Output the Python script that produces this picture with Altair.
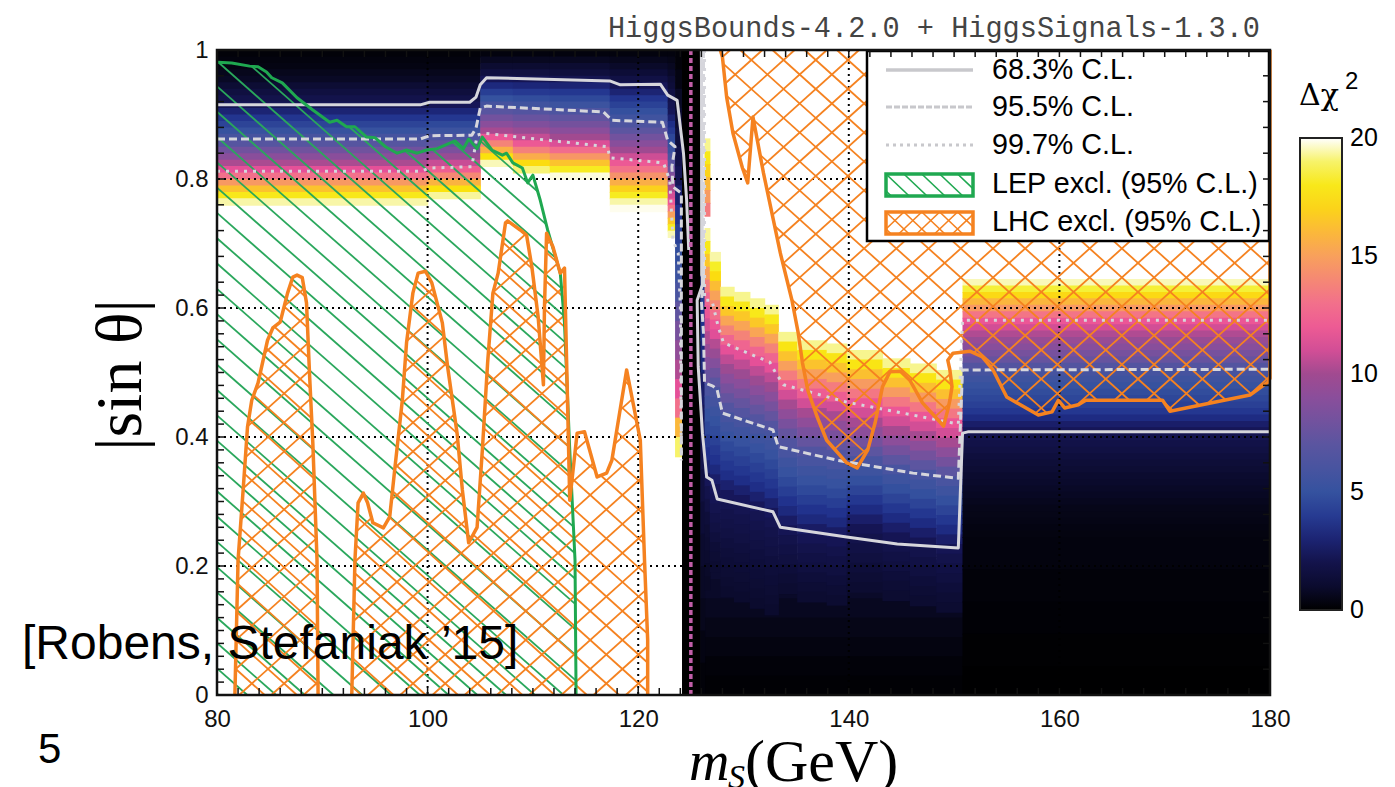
import altair as alt
import numpy as np
import pandas as pd

alt.data_transformers.disable_max_rows()

W, H = 1053, 645

# ---- colour scale
color_dom = [0, 1, 2.5, 3.5, 5, 7, 9, 10, 11.5, 13, 15, 16, 17.5, 18.5, 19.5, 20]
color_rng = ["#000000", "#0b0b2e", "#17175a", "#20308c", "#35529f", "#5a55a0", "#8a4e9b", "#a14a90",
             "#ea5099", "#f2708b", "#f8a05c", "#fbb83a", "#fbe10a", "#f5ef2a", "#f8f6a8", "#ffffff"]

# ---- heat map: Δχ² rows read per mass column (x0, x1, top sinθ, row height, values)
top_c1 = [.2,.3,.4,.6,.8,1.2,1.6,2,2.3,3,3.7,4.4,5.1,5.9,6.8,7.9,9,10.2,11.4,13,14.7,16.4,18,19.5]
top_c2 = [.2,.3,.4,.6,.8,1.1,1.5,1.9,2.4,3.1,3.8,4.6,5.4,6.3,7.3,8.4,9.6,10.8,12.2,14,15.8,17.6,19.4]
top_c3a = [.3,.7,1.1,1.6,2.4,3.2,4.1,5,5.9,6.9,8,9,10.1,11.8,13.8,15.7,17.6,19.6]
top_c3b = [.3,.7,1.1,1.6,2.3,3.1,3.9,4.8,5.6,6.6,7.6,8.6,9.6,10.7,11.9,13.7,15.5,17.3,19.1]
top_c3c = [.3,.7,1.1,1.5,2.2,3,3.8,4.6,5.4,6.3,7.2,8.1,9,10,11.2,12.8,14.6,16.4,18.2,19.8]
top_c4 = [.3,.6,.9,1.3,1.8,2.4,3,3.7,4.3,4.9,5.6,6.3,7.1,8,8.9,9.9,10.9,11.9,13.1,14.4,15.6,16.9,18.2,19.5,19.9]
top_c5 = [.3,.5,.7,.9,1.2,1.4,1.7,2,2.2,2.4,2.9,3.4,3.9,4.5,4.9,5.4,6.2,7,7.8,8.6,9.4,10.2,11,11.8,13.2,15,16.6,18.2,19.6]
top_c6 = [.2,.4,.8,1.1,1.5,1.9,2.3,2.9,3.5,4.2,4.8,5.4,6.1,7.2,8.2,9.3,10.3,11.4,13,16,19]
strip_r0 = [20,20,20,20,20,20,20,4,3.6,3.2,2.8,2.4,2,1.6,1.3,1,.8,.6,.4,.2]
strip_r1a = [19.3,18,17,16,14.8,13.5]
strip_r1b = [19.4,18,16.5,15,13.5,12.5,11.8,11,10.3,9.5,8.8,7.5,6.2,5.6,5,4.5,4,3.5,3,2.4,2,1.7,1.4,1.2,1.1,1,.9,.8]
strip_r2 = [19.5,18.4,17.3,16.2,15.1,14,12.9,11.8,11.3,10.4,9.6,8.7,7.8,7,6.1,5.8,5.4,5,4.7,4.3,3.9,3.6,3.2,2.8,2.5,2.3,2.1,1.9,1.7,1.5,1.3,1.2,1.1]
body_r3 = [19.3,18,16.6,15.2,13.8,12.5,11.4,10.6,9.8,9,8.2,7.4,6.6,5.9,5.5,5.1,4.6,4.2,3.8,3.4,2.9,2.5,2.2,2,1.85,1.7,1.55,1.4,1.3,1.2,1.1,1]
body_r4a = [19.3,17.8,16.4,15,13.5,12.1,11,10.1,9.2,8.3,7.4,6.5,6,5.5,5.1,4.6,4.1,3.6,3.2,2.7,2.3,2,1.8,1.6,1.4,1.25,1.1]
body_r4b = [19.3,17.8,16.3,14.8,13.3,11.8,11,10.1,9.1,8.1,7.1,6.1,5.5,4.9,4.4,3.8,3.3,2.8,2.3,2,1.8,1.6,1.4,1.25,1.1]
dark_floor = [1.1,.9,.7,.5,.35,.2,.1]
right_upper = [19.6,18.6,17.2,15.9,14.7,13.2,11.8,11,10.3,9.6,8.9,8.2,7.5,6.6,5.9,5.5,5.1,4.8,4.5,4.2,3.8,3.3,2.8,2.4,2.1,1.9,1.7,1.5,1.35,1.2,1.05,.95,.85,.75,.65,.55,.5,.45,.4,.35]
right_lower = [.3,.2,.12,.06,.02]

columns = [
    (126.3, 150.8, .21, .03, dark_floor),
    (80, 100, 1, .01, top_c1), (100, 105, 1, .01, top_c2),
    (105, 108.1, 1, .01, top_c3a), (108.1, 111.6, 1, .01, top_c3b),
    (111.6, 117.3, 1, .01, top_c3c), (117.3, 122.8, 1, .01, top_c4),
    (122.8, 123.5, 1, .01, top_c5), (123.5, 124.2, 1, .03, top_c6),
    (124.16, 125.9, 1, 1, [0]),
    (125.9, 126.3, 1, .05, strip_r0),
    (126.3, 126.8, .863, .02, strip_r1a), (126.3, 126.8, .724, .02, strip_r1b),
    (126.8, 127.8, .687, .015, strip_r2),
    (127.8, 129.1, .633, .015, body_r3), (129.1, 130.6, .625, .015, body_r3),
    (130.6, 132.0, .615, .015, body_r3), (132.0, 133.3, .605, .015, body_r3),
    (133.3, 135.1, .563, .015, body_r4a), (135.1, 137.9, .55, .015, body_r4a),
    (137.9, 139.8, .545, .015, body_r4a), (139.8, 143.2, .535, .015, body_r4b),
    (143.2, 145.8, .522, .015, body_r4b), (145.8, 148.3, .514, .015, body_r4b),
    (148.3, 150.8, .504, .015, body_r4b),
    (150.8, 180, .645, .01, right_upper), (150.8, 180, .245, .05, right_lower),
]

# ---- outlines (m_S, |sinθ|)
lep_x = [80,80.1,81.4,83.1,83.9,84.7,85.2,86.2,87.6,89.1,90.7,91.4,92.3,93.1,94.2,95,96,97.1,98,99,99.9,100.9,102.6,103.4,103.9,104.7,105.2,106.1,107.1,107.5,108.1,109,109.5,110,110.7,111.4,112.6,113,113.5,114,114.1]
lep_y = [.981,.981,.98,.975,.974,.966,.957,.949,.926,.907,.888,.891,.881,.881,.865,.864,.85,.84,.845,.84,.845,.847,.859,.847,.862,.847,.865,.845,.837,.84,.825,.817,.794,.806,.767,.721,.654,.577,.38,.209,0]

lhc_a_x = [81.7,82,82.5,82.9,83.3,83.9,84.8,85.3,86,86.7,87.2,87.6,88.1,88.5,88.8,89.1,89.5,89.6]
lhc_a_y = [0,.209,.322,.416,.457,.484,.55,.569,.578,.623,.648,.651,.647,.608,.493,.391,.209,0]
lhc_b_x = [92.8,93.1,93.4,93.9,94.3,94.8,95.8,96.4,96.9,97.6,98,98.6,99.1,99.8,100.4,101.4,101.9,102.8,103.3,103.9,104.7,105.2,105.7,106.2,106.7,107.4,107.6,108.8,109.4,109.9,110.5,111,111.1,111.3,111.9,112.6,113,113.2,113.5,114.2,114.9,116.1,117,117.5,118.9,120.2,120.6,120.9,120.9]
lhc_b_y = [0,.209,.298,.313,.298,.267,.259,.276,.353,.457,.546,.623,.654,.657,.639,.577,.509,.406,.318,.236,.26,.38,.515,.623,.654,.732,.735,.721,.713,.664,.586,.481,.602,.716,.695,.654,.662,.519,.302,.406,.408,.338,.344,.364,.504,.395,.209,.085,0]
lhc_c_x = [127.8,128,128.4,129,129.9,130.4,130.9,131.9,133.5,134.6,135.2,135.6,136.1,137,137.9,139.8,140.8,141.8,142.5,143.2,143.9,144.9,145.8,147,149,149.4,149.6,149.8,149.6,149.4,149.9,151.5,152.7,153.7,155,158,159.3,159.9,160.5,161.8,162.5,169.8,170.5,178.1,179.8,180,180]
lhc_c_y = [1,.989,.927,.871,.817,.794,.896,.809,.685,.612,.561,.515,.473,.431,.395,.36,.352,.38,.422,.478,.501,.502,.488,.453,.417,.442,.457,.478,.504,.519,.53,.533,.524,.504,.462,.434,.439,.457,.445,.45,.457,.457,.44,.465,.485,.491,1]

cl68_a_x = [80,99.3,100.2,104,104.6,105,105.6,117.3,118.3,122.1,122.8,123.7,124.3,124.6,124.8]
cl68_a_y = [.915,.915,.919,.919,.927,.946,.957,.952,.946,.947,.93,.922,.84,.767,.69]
cl68_b_x = [126,126.1,125.6,125.7,126.1,126.5,127,127.5,132.8,133.5,139.8,144.6,150.4,150.8,151.3,180]
cl68_b_y = [1,.636,.612,.509,.406,.338,.333,.304,.284,.26,.245,.234,.228,.406,.408,.408]
cl95_a_x = [80,99.3,100.2,104.2,104.6,105,105.6,116.7,117.5,122.3,122.8,123.5,123.2,123.3,124.1,124.1,124.1]
cl95_a_y = [.862,.862,.867,.868,.879,.91,.913,.904,.891,.888,.86,.85,.819,.788,.778,.55,.364]
cl95_b_x = [126.2,126.2,126,126.2,126.3,127.1,127.5,128,132.8,133.3,138.9,146.1,150.4,150.8,151.5,180]
cl95_b_y = [1,.636,.612,.561,.484,.479,.473,.437,.411,.385,.364,.344,.336,.504,.504,.505]
cl99_a_x = [80,99.3,100.2,104.2,104.7,105.3,117.1,117.3,122.4,123,123.3,123.8,124,124.1]
cl99_a_y = [.812,.812,.817,.819,.868,.871,.85,.833,.825,.798,.705,.685,.602,.364]
cl99_b_x = [126.3,126.3,127,127.6,128.1,132.5,133,133.8,139.8,146.1,150.4,150.8,180]
cl99_b_y = [1,.612,.612,.571,.546,.516,.501,.481,.454,.434,.42,.581,.581]

higgs_mass = [125]
x_major = [80, 100, 120, 140, 160, 180]
y_major = [0, .2, .4, .6, .8, 1]
x_grid = [100, 120, 140, 160]
y_grid = [.2, .4, .6, .8]
bar_ticks = [0, 5, 10, 15, 20]
legend_labels = ["68.3% C.L.", "95.5% C.L.", "99.7% C.L.", "LEP excl. (95% C.L.)", "LHC excl. (95% C.L.)"]

GREEN = "#1fa850"
ORANGE = "#f58220"
LINE = "#d6d6dc"
SANS = "Liberation Sans"
SERIF = "Liberation Serif"

color_scale = alt.Scale(domain=color_dom, range=color_rng, interpolate="rgb")

rows = []
for x0, x1, top, h, vals in columns:
    for i, v in enumerate(vals):
        # a sliver of overlap hides anti-aliased seams between neighbouring cells
        rows.append({"x0": x0, "x1": min(x1 + .06, 180), "y0": top - i * h,
                     "y1": max(top - (i + 1) * h - .0015, 0), "v": v})
heat_df = pd.DataFrame(rows)


def to_px(xs, ys):
    return (np.asarray(xs, float) - 80) * W / 100, (1 - np.asarray(ys, float)) * H


def hatch(xs, ys, slope, period, ax, ay):
    """Clip a family of parallel lines py = ay + slope*(px-ax) + k*period to a polygon."""
    px, py = to_px(xs, ys)
    c = py - slope * px
    cref = ay - slope * ax
    out = []
    for k in range(int((c.min() - cref) // period), int((c.max() - cref) // period) + 2):
        ck = cref + k * period
        hits = []
        n = len(px)
        for i in range(n):
            j = (i + 1) % n
            d1, d2 = c[i] - ck, c[j] - ck
            if (d1 < 0) != (d2 < 0):
                t = d1 / (d1 - d2)
                hits.append(px[i] + t * (px[j] - px[i]))
        hits.sort()
        for a, b in zip(hits[::2], hits[1::2]):
            out.append((a, ck + slope * a, b, ck + slope * b))
    return out


def segs_df(segs):
    return pd.DataFrame([{"x": 80 + a * 100 / W, "y": 1 - b / H, "x2": 80 + c * 100 / W, "y2": 1 - d / H}
                         for a, b, c, d in segs])


def seg_layer(segs, color, width):
    return alt.Chart(segs_df(segs)).mark_rule(color=color, strokeWidth=width).encode(
        x="x:Q", y="y:Q", x2="x2:Q", y2="y2:Q")


def poly_line(xs, ys, color, width, dash=None, opacity=1):
    df = pd.DataFrame({"x": xs, "y": ys, "i": range(len(xs))})
    kw = {"strokeDash": dash} if dash else {}
    return alt.Chart(df).mark_line(color=color, strokeWidth=width, strokeJoin="round", opacity=opacity, **kw).encode(
        x="x:Q", y="y:Q", order="i:Q")


one = pd.DataFrame({"a": [0]})


def txt(s, x, y, size, font=SANS, align="left", color="black", angle=None, style=None):
    kw = {}
    if angle is not None:
        kw["angle"] = angle
    if style:
        kw["fontStyle"] = style
    return alt.Chart(one).mark_text(text=s, font=font, fontSize=size, align=align, baseline="middle",
                                    color=color, **kw).encode(x=alt.value(x), y=alt.value(y))


def px_rule(x, x2, y, y2, color, width, dash=None):
    kw = {"strokeDash": dash} if dash else {}
    return alt.Chart(one).mark_rule(color=color, strokeWidth=width, **kw).encode(
        x=alt.value(x), x2=alt.value(x2), y=alt.value(y), y2=alt.value(y2))


def px_box(x, x2, y, y2, stroke, width, fill=None):
    if fill:
        m = alt.Chart(one).mark_rect(fill=fill, stroke=stroke, strokeWidth=width)
    else:
        m = alt.Chart(one).mark_rect(fillOpacity=0, stroke=stroke, strokeWidth=width)
    return m.encode(x=alt.value(x), x2=alt.value(x2), y=alt.value(y), y2=alt.value(y2))


heat = alt.Chart(heat_df).mark_rect().encode(
    x=alt.X("x0:Q", scale=alt.Scale(domain=[80, 180], nice=False, zero=False),
            axis=alt.Axis(values=x_major, title=None, grid=False, domain=False, tickSize=0, labelFont=SANS,
                          labelFontSize=24, labelPadding=12, labelColor="#111", labelFlush=False)),
    x2="x1:Q",
    y=alt.Y("y0:Q", scale=alt.Scale(domain=[0, 1], nice=False, zero=False),
            axis=alt.Axis(values=y_major, title=None, grid=False, domain=False, tickSize=0, labelFont=SANS,
                          labelFontSize=24, labelPadding=9, format="~g", labelColor="#111", labelFlush=False)),
    y2="y1:Q",
    color=alt.Color("v:Q", scale=color_scale,
                    legend=alt.Legend(type="gradient", orient="none", legendX=1083, legendY=88, title=None,
                                      gradientLength=472, gradientThickness=42, gradientStrokeColor="#222",
                                      gradientStrokeWidth=2, labelExpr="''", values=bar_ticks)),
)

layers = [heat]

# grid
layers.append(alt.Chart(pd.DataFrame({"x": x_grid})).mark_rule(color="black", strokeWidth=2, strokeDash=[2, 4]).encode(x="x:Q"))
layers.append(alt.Chart(pd.DataFrame({"y": y_grid})).mark_rule(color="black", strokeWidth=2, strokeDash=[2, 4]).encode(y="y:Q"))

# hatches
GS, GP = 0.88, 25.3
OS, OP = 0.90, 29.0
green_segs = hatch(lep_x + [80], lep_y + [0], GS, GP, 1, 12)
layers.append(seg_layer(green_segs, "#2aa75c", 1.8))
for xs, ys in [(lhc_a_x, lhc_a_y), (lhc_b_x, lhc_b_y), (lhc_c_x, lhc_c_y)]:
    layers.append(seg_layer(hatch(xs, ys, OS, OP, 631, 10) + hatch(xs, ys, -OS, OP, 631, 10), ORANGE, 1.8))

# contour lines
for (xs, ys), dash, w in [((cl68_a_x, cl68_a_y), None, 3), ((cl68_b_x, cl68_b_y), None, 3),
                          ((cl95_a_x, cl95_a_y), [8, 4], 3), ((cl95_b_x, cl95_b_y), [8, 4], 3),
                          ((cl99_a_x, cl99_a_y), [3, 6], 3), ((cl99_b_x, cl99_b_y), [3, 6], 3)]:
    layers.append(poly_line(xs, ys, LINE, w, dash))

# exclusion outlines
layers.append(poly_line(lep_x, lep_y, GREEN, 3))
for xs, ys in [(lhc_a_x, lhc_a_y), (lhc_b_x, lhc_b_y), (lhc_c_x, lhc_c_y)]:
    layers.append(poly_line(xs, ys, ORANGE, 3.5))

# Higgs mass line
layers.append(alt.Chart(pd.DataFrame({"x": higgs_mass})).mark_rule(color="#c25fa8", strokeWidth=3.5, strokeDash=[5, 3]).encode(x="x:Q"))

# legend box
layers.append(px_box(650, 1052, 1, 191, "black", 2.5, "white"))
layers.append(px_rule(669, 756, 20, 20, "#c8c8cc", 3.5))
layers.append(px_rule(669, 756, 57, 57, "#c8c8cc", 3, [6, 2]))
layers.append(px_rule(669, 756, 95, 95, "#c8c8cc", 3, [3, 4]))


def legend_hatch(y_top, y_bot, slope, ax, ay):
    xs = [80 + 669 * 100 / W, 80 + 756 * 100 / W, 80 + 756 * 100 / W, 80 + 669 * 100 / W]
    ys = [1 - y_top / H, 1 - y_top / H, 1 - y_bot / H, 1 - y_bot / H]
    return hatch(xs, ys, slope, 17, ax, ay)


layers.append(seg_layer(legend_hatch(124, 146, 0.95, 669, 124), GREEN, 1.6))
layers.append(seg_layer(legend_hatch(162, 184, 0.95, 669, 162) + legend_hatch(162, 184, -0.95, 669, 162), ORANGE, 1.6))
layers.append(px_box(669, 756, 124, 146, GREEN, 3.5))
layers.append(px_box(669, 756, 162, 184, ORANGE, 3.5))
for lbl, yy in zip(legend_labels, [20, 57, 95, 134, 172]):
    layers.append(txt(lbl, 775, yy, 28.7))

# frame and ticks
layers.append(px_box(0, W, 0, H, "#111", 2.5))
tick_x = list(range(82, 180, 2))
tick_y_left = [round(i * .02, 2) for i in range(1, 33)] + [round(.64 + i * .04, 2) for i in range(1, 9)]
tick_y_right = [round(i * .04, 2) for i in range(1, 25)]
df_tx = pd.DataFrame({"x": tick_x})
layers.append(alt.Chart(df_tx).mark_rule(color="#111", strokeWidth=1.5).encode(x="x:Q", y=alt.value(H), y2=alt.value(H - 7)))
layers.append(alt.Chart(df_tx).mark_rule(color="#111", strokeWidth=1.5).encode(x="x:Q", y=alt.value(0), y2=alt.value(7)))
layers.append(alt.Chart(pd.DataFrame({"y": tick_y_left})).mark_rule(color="#111", strokeWidth=1.5).encode(y="y:Q", x=alt.value(0), x2=alt.value(7)))
layers.append(alt.Chart(pd.DataFrame({"y": tick_y_right})).mark_rule(color="#111", strokeWidth=1.5).encode(y="y:Q", x=alt.value(W), x2=alt.value(W - 7)))

# colour bar ticks and labels
for v in bar_ticks[1:4]:
    yy = 88 + 472 * (1 - v / 20)
    layers.append(px_rule(1084, 1094, yy, yy, "#111", 2))
    layers.append(px_rule(1114, 1124, yy, yy, "#111", 2))
for v in bar_ticks:
    layers.append(txt(str(v), 1133, 88 + 472 * (1 - v / 20), 25))
layers.append(txt("Δχ", 1082, 46, 30, font="DejaVu Serif"))
layers.append(txt("2", 1128, 32, 24))

# free text
layers.append(txt("HiggsBounds-4.2.0 + HiggsSignals-1.3.0", 1043, -22, 28.6, font="Liberation Mono", align="right", color="#444"))
layers.append(txt("[Robens, Stefaniak ’15]", -195, 595, 48))
layers.append(txt("5", -179, 700, 42))
layers.append(txt("|sin θ|", -96, 325, 66, font=SERIF, angle=270, align="center"))
layers.append(txt("m", 472, 713, 56, font=SERIF, style="italic"))
layers.append(txt("S", 511, 728, 34, font=SERIF, style="italic"))
layers.append(txt("(GeV)", 528, 713, 60, font=SERIF))
layers.append(txt(")", -205, 165, 160, font=SERIF, align="right"))

chart = alt.layer(*layers).properties(
    width=W, height=H,
    autosize=alt.AutoSizeParams(type="none"),
    padding={"left": 209, "top": 42, "right": 117, "bottom": 92},
    background="white",
).configure_view(stroke=None)

chart.save("out.html", embed_options={"renderer": "svg", "actions": False})
